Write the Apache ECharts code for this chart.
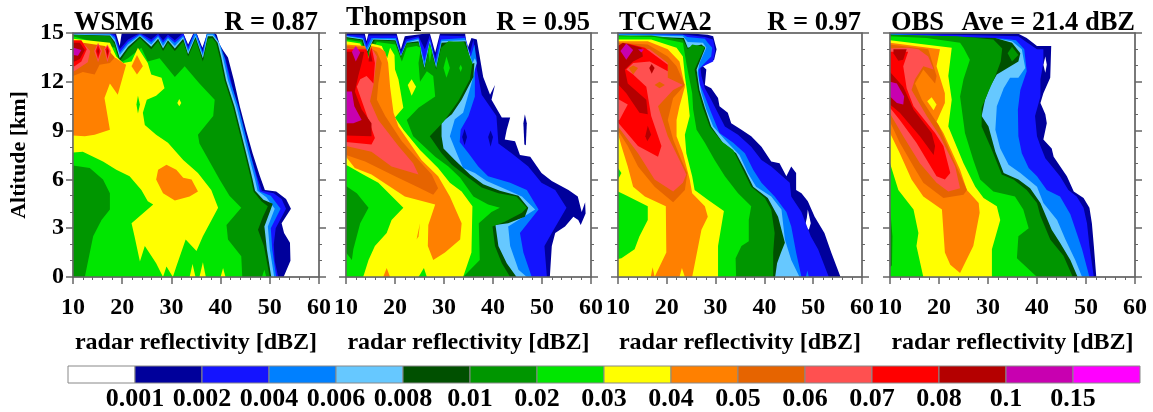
<!DOCTYPE html>
<html><head><meta charset="utf-8">
<script src="https://cdn.jsdelivr.net/npm/echarts@6/dist/echarts.min.js"></script>
<style>html,body{margin:0;padding:0;background:#fff}#c{width:1153px;height:412px}</style>
</head><body><div id="c"></div>
<script>
const bandColors=['#ffffff','#00009b','#1414ff','#0080ff','#66c8ff','#005000','#009600','#00e600','#ffff00','#ff8000','#e66400','#ff5050','#ff0000','#b40000','#c800b0','#ff00ff'];
const colorbarTicks=['0.001','0.002','0.004','0.006','0.008','0.01','0.02','0.03','0.04','0.05','0.06','0.07','0.08','0.1','0.15'];
const panelNames=['WSM6','Thompson','TCWA2','OBS'];
const panelStats=['R = 0.87','R = 0.95','R = 0.97','Ave = 21.4 dBZ'];

// Each entry: [colour band, outline as [dBZ, km] pairs], in painting order
const wsm6Bands=[
[1,[[10,0],[52.8,0],[54.2,1],[54.1,2.1],[52.9,2.7],[52.4,3.3],[54.3,4.2],[53.3,4.8],[51.3,5.25],[49,5.35],[48,6.2],[46.5,7.6],[45.2,9],[43.9,10.5],[42.7,12.1],[41.5,13.5],[40.6,13.9],[39.8,14.3],[39.2,14.9],[38.8,15],[37.3,15],[36.3,14.1],[35.1,15],[34.5,15],[33.4,14.3],[32.4,15],[19.9,15],[19.5,14.2],[18.7,15],[10,15]]],
[2,[[10,0],[51.7,0],[51,1],[50.8,2],[51.2,3],[51.9,3.4],[53.3,4.2],[52.4,4.8],[50.8,5.15],[48.4,5.3],[47.4,6.2],[46,7.6],[44.7,9],[43.3,10.5],[42.1,12.1],[41,13.4],[39.9,14],[39.2,14.6],[38.6,15],[37.3,15],[36.3,13.9],[35.1,15],[34.6,15],[33.4,14.15],[32.4,15],[30.7,14.55],[29.3,14.9],[28.3,14.55],[27.3,14.95],[25.9,14.6],[23.6,15],[21.2,14.6],[19.5,14],[18.5,14.9],[17.5,15],[10,15]]],
[3,[[10,0],[51.3,0],[50.5,1.7],[50.2,3],[52.2,4.2],[50.2,5],[48,5.25],[47.4,6],[46,7.6],[44.8,9.05],[43.6,10.5],[41.9,12.1],[40.8,13.5],[40,14.2],[38.6,15],[37.2,15],[36.4,13.75],[35,15],[34.7,15],[33.4,14],[32.4,14.85],[30.7,14.4],[29.3,14.75],[28.3,14.4],[27.3,14.85],[25.9,14.45],[23.6,14.92],[21.2,14.45],[19.5,13.8],[18.5,14.75],[17.5,14.95],[10,14.95]]],
[4,[[10,0],[50.9,0],[50,1.7],[49.6,3.1],[51,4.2],[49.3,4.9],[47.5,5.3],[47,6],[45.6,7.6],[44.4,9.05],[43.2,10.5],[41.5,12.1],[40.4,13.6],[39.7,14.4],[38.4,14.9],[37.3,14.9],[36.4,13.6],[34.9,14.85],[33.4,13.85],[32.4,14.75],[30.7,14.2],[29.3,14.65],[28.3,14.2],[27.3,14.75],[25.9,14.3],[23.6,14.85],[21.2,14.3],[19.5,13.65],[18.5,14.6],[17.5,14.9],[10,14.93]]],
[5,[[10,0],[50.3,0],[49.4,1.7],[48.9,3.1],[50,4],[50.6,4.5],[48.7,4.75],[47,5.3],[46.5,6],[45.2,7.6],[44,9.05],[42.8,10.5],[41.1,12.1],[40.1,13.55],[39.4,14.4],[38.4,14.8],[37.4,14.8],[36.4,13.45],[34.9,14.75],[33.4,13.7],[32.4,14.65],[30.7,14.05],[29.3,14.55],[28.3,14.05],[27.3,14.65],[25.9,14.15],[23.6,14.8],[21.2,14.15],[19.5,13.45],[18.5,14.45],[17.5,14.85],[10,14.9]]],
[6,[[10,0],[50,0],[48.8,1.9],[47.6,2.9],[48.6,3.7],[49.6,4.35],[48.3,4.65],[46.7,5.25],[46.2,6],[44.9,7.6],[43.7,9.05],[42.5,10.5],[40.8,12.1],[39.8,13.55],[39.1,14.4],[38.3,14.7],[37.4,14.65],[36.4,13.25],[34.9,14.6],[33.4,13.55],[32.4,14.5],[30.7,13.9],[29.3,14.4],[28.3,13.9],[27.3,14.5],[25.9,14],[23.6,14.7],[21.2,14],[19.5,13.25],[18.5,14.3],[17.5,14.8],[10,14.9]]],
[7,[[10,6.85],[10,14.8],[18.5,14.1],[19.5,13.15],[21.2,13.45],[23.9,14.1],[25.2,13.25],[27.6,13.45],[30.7,12.3],[32.7,12.95],[35.7,11.9],[38.8,10.9],[38.5,9.9],[35.4,8.75],[35.7,8.2],[39.8,6],[41.8,5],[44.2,4.25],[41.2,3.2],[41.5,2.3],[44.2,1.27],[44.4,0],[12.4,0],[14.1,2.5],[15.8,3.5],[17.5,4.15],[17.5,5.15],[16.1,6],[13.4,6.7]]],
[7,[[48.4,0],[48.9,0.45],[49.3,0]]],
[8,[[10,14.65],[17.5,14.4],[18.8,13.55],[20.2,13.15],[21.9,13.25],[23.2,14.1],[25.2,13.15],[25.9,12.45],[28,12.25],[28.6,11.6],[26.9,11.15],[25,10.9],[24.2,10.1],[24.6,9.35],[26.9,8.75],[29.3,8.25],[32.4,7.2],[35.4,6.4],[38.1,5.35],[39.5,4.25],[36.4,2.5],[35.1,1.6],[32.9,2.3],[31,0.65],[30.3,0],[29,0.65],[28.3,0],[26.9,0.85],[24.6,1.9],[23.6,0.95],[22.5,2.5],[21.9,3.3],[23.6,3.75],[26.3,4.45],[25.2,4.65],[23.9,5.35],[21.5,6.2],[18.8,6.6],[16.1,7.1],[14.1,7.4],[12,7.7],[10,7.65]]],
[8,[[33.7,0],[34.3,0.8],[34.9,0]]],
[8,[[35.7,0],[36.4,0.9],[37,0]]],
[8,[[40,0],[40.5,0.55],[41,0]]],
[8,[[31.2,10.7],[31.6,10.95],[32,10.7],[31.6,10.5]]],
[7,[[22.9,10.6],[23.2,11.15],[23.6,10.6],[23.2,10.05]]],
[9,[[10,8.7],[12.4,8.65],[14.4,8.75],[17.5,9.05],[16.4,11],[17.5,11.9],[19.1,11.2],[20.8,13.05],[20.2,13.15],[18.8,13.45],[10,14.4]]],
[9,[[23,13.65],[24.2,12.95],[23,12.45],[21.9,12.95]]],
[9,[[29,6.9],[31,6.6],[32.4,6.1],[34.1,6],[35.4,5.25],[33.7,4.95],[30.7,4.7],[28.3,5.15],[26.9,6],[27.3,6.6]]],
[10,[[10,12.35],[12,12.6],[14.4,12.45],[15.4,13.05],[17.5,13.15],[18.5,13.5],[16.5,14.2],[10,14.5]]],
[11,[[10,14.5],[12,14.4],[13.5,13.9],[13,13.2],[11,12.8],[10,12.6]]],
[11,[[14.3,13.9],[15.1,14.4],[15.9,13.9],[15.1,13.2]]],
[11,[[16.3,14],[17,14.3],[17.7,13.9],[17,13.2]]],
[12,[[10,14.55],[11.7,14.55],[12.8,14],[11.7,13.25],[10.3,12.95],[10,12.95]]],
[12,[[14.6,13.9],[15.1,14.3],[15.6,13.9],[15.1,13.4]]],
[12,[[16.6,14],[17,14.2],[17.4,13.9],[17,13.4]]],
[13,[[10,14.4],[11.4,14.4],[12.4,13.95],[11.4,13.4],[10.3,13.25],[10,13.25]]],
[13,[[14.9,13.9],[15.1,14.1],[15.3,13.9],[15.1,13.6]]],
[13,[[16.8,13.9],[17,14.05],[17.2,13.9],[17,13.6]]],
[14,[[10.1,14.1],[11.7,13.95],[11,13.6],[10.1,13.65]]]
];

const thompsonBands=[
[1,[[10,0],[51.6,0],[52,1.9],[52.7,2.7],[54.7,3.1],[56.4,3.7],[57.4,3.5],[57.9,3.2],[58.9,3.9],[58.8,4.6],[58.1,4],[57.3,4.95],[55.4,5.35],[52,5.9],[49.9,6.4],[47.6,7.4],[45.5,7.5],[44.5,8.35],[42.4,8.45],[42.8,9.05],[43.5,9.8],[41.8,9.8],[39.7,10.9],[40.4,11.8],[39.4,11.2],[38,12.3],[36.7,14.6],[35.6,14.7],[34.7,13.95],[34.3,15],[29.2,15],[28.2,13.8],[27.1,15],[22,14.8],[21.2,14],[20.3,15],[14.6,15],[14.2,14.5],[13.8,15],[10,15]]],
[1,[[46.2,9.45],[46.5,10],[46.9,9.45],[46.7,8.1],[46.4,8.15]]],
[2,[[10,0],[51,0],[50.5,1.9],[52,2.7],[55,4.25],[52.7,5.35],[49.9,5.8],[47.2,6.8],[43.8,7.6],[41.1,8.2],[40.7,9.9],[37.7,11.2],[36.7,12.75],[36,14.6],[35.3,13.75],[34.3,14.8],[29.2,14.85],[28.2,13.45],[27.1,14.85],[26.1,14],[24.8,14.8],[22.2,14.6],[21.2,13.8],[20.3,14.85],[14.6,14.85],[14.2,14.3],[13.7,14.85],[10,14.9]]],
[1,[[39,8.6],[39.5,9],[40,8.6],[39.5,8]]],
[1,[[33.7,8.6],[34.2,9.1],[34.7,8.6],[34.2,8.1]]],
[3,[[10,0],[47.9,0],[46.2,1.5],[45.5,2.7],[49.3,4.15],[46.9,5.35],[43.5,5.8],[39,6.2],[37,6.8],[35,7.6],[33.2,8.3],[33.4,9.05],[35,9.9],[36.3,11.1],[36.3,12.95],[36.7,13.25],[36.2,14.3],[35.3,13.35],[34.3,14.7],[29.4,14.6],[28.3,13.15],[27.1,14.6],[26,13.25],[24.8,14.7],[22.4,14.5],[21.2,13.65],[20.2,14.7],[15.2,14.7],[14.2,14.1],[13.5,14.7],[10,14.85]]],
[4,[[10,0],[46.9,0],[45.2,0.45],[43.5,1.9],[43.1,3.1],[48.6,4.15],[45.9,4.95],[42.1,5.45],[38.7,5.9],[36.3,6.4],[33.9,6.7],[32.6,7.6],[31.2,8.65],[32.2,9.7],[33.9,10.1],[35.6,11.9],[36.3,12.75],[36.7,13.15],[36.3,13.45],[35.8,13.15],[34.4,14.55],[29.5,14.5],[28.4,12.95],[27.1,14.5],[26,12.95],[24.8,14.6],[22.4,14.4],[21.2,13.6],[20.1,14.6],[15.6,14.65],[14.2,13.9],[13.4,14.65],[10,14.8]]],
[5,[[10,0],[44.8,0],[42.8,0.85],[41.1,1.9],[40.5,3.2],[43.1,3.3],[46.5,3.7],[47.2,4.25],[45.2,5],[41.4,5.3],[38,5.7],[35.3,6.3],[32.2,7.2],[29.9,7.9],[29.5,8.65],[29.5,9.5],[31.6,10],[33.6,10.9],[36,12.3],[36.2,13.15],[35.6,13.1],[34.4,14.5],[29.5,14.4],[28.4,12.85],[27.1,14.4],[26,12.85],[24.8,14.5],[22.4,14.4],[21.2,13.55],[20.1,14.55],[15.6,14.6],[14.2,13.8],[13.4,14.6],[10,14.75]]],
[6,[[10,0],[43.5,0],[41.8,0.85],[40.4,1.9],[39.9,3.1],[42.4,3.4],[45.9,3.95],[46.9,4.25],[44.8,4.95],[41.1,5.15],[37.7,5.5],[35,6.1],[31.6,6.9],[29.5,7.6],[27.1,8.65],[29.9,9.55],[32.9,10.8],[35.3,12.15],[35.8,13.15],[34.1,14.45],[30.9,14.5],[29.4,14.1],[28.4,12.75],[27.1,14.3],[26,12.75],[24.8,14.4],[22.4,14.35],[21.2,13.5],[20,14.5],[15.9,14.55],[14.2,13.7],[13.2,14.55],[10,14.7]]],
[7,[[10,0],[33.9,0],[37.3,1.05],[37.1,3.3],[39.7,4],[41.4,4.25],[39,4.45],[36,4.95],[33.3,6.1],[30.9,6.8],[28.2,7.4],[23.7,8.65],[22.4,9.65],[24.8,10.4],[28.2,11.1],[27.8,12.35],[26.5,12.65],[25.1,12],[24.8,13.15],[25.3,14.1],[24.4,14.2],[22.4,14.1],[21.4,13.25],[20.1,14.3],[16.3,14.45],[14.4,13.35],[13.1,14.45],[10,14.6]]],
[7,[[29.9,12.85],[30.5,13.55],[31.2,12.85],[30.5,12.25]]],
[7,[[33.1,12.85],[33.4,13.05],[33.7,12.85],[33.4,12.6]]],
[7,[[26.8,13.9],[27.1,14.3],[27.5,13.9],[27.1,13.2]]],
[6,[[10,5.6],[12.2,5.15],[14.6,4.25],[12.9,3.3],[11.5,1.7],[11.2,1.05],[10,1.5]]],
[8,[[10,6.9],[13.5,6.3],[16.6,5.8],[21.7,4.25],[19.3,3.5],[18.3,2.7],[15.9,1.9],[14.6,1.05],[13.5,0],[33.9,0],[35.6,1.5],[35.8,4.35],[33.6,5.25],[31.2,5.8],[28.8,6.7],[25.1,7.8],[21.7,9.05],[20,9.8],[21.7,10.4],[20.7,12.15],[20,12.75],[19.9,13.65],[19,14.1],[18.4,13.45],[17.3,14.2],[15.2,14.35],[14.4,13.25],[12.9,14.35],[10,14.5]]],
[8,[[22.6,11.8],[23.4,12.15],[24.3,11.7],[23.4,11.15]]],
[7,[[24.8,0],[25.9,0.55],[26.5,0]]],
[9,[[10,7.4],[11.8,6.7],[15.2,6.3],[19,5.55],[22,4.95],[28.2,4.45],[26.8,3.2],[26.7,1.9],[27.8,1.05],[30.2,1.5],[33.3,2.3],[33.6,3.3],[31.2,4.95],[28.8,6.2],[25.4,7.2],[20.7,9.25],[19.7,10.1],[19,11.7],[18.6,13.15],[18,13.85],[16.9,14.1],[15.1,14.2],[14.5,13.2],[13.9,14.2],[10,14.3]]],
[9,[[24.4,2.3],[25.1,3.3],[24.8,2.5]]],
[9,[[17.6,0],[18.3,0.55],[19,0]]],
[10,[[10,7.5],[13.9,7.1],[20,6.2],[24.8,5.5],[27.8,5.05],[28.8,5.45],[27.5,6.3],[24.8,7.2],[21.4,8.35],[18,9.9],[16.3,10.9],[16.6,11.9],[17.3,13.15],[16.3,13.85],[14.9,14.1],[14.6,13.25],[14,14.1],[10,14.2]]],
[11,[[10,8.05],[15.2,7.7],[19.3,6.8],[24.8,6.3],[23.7,7],[20.7,8.05],[16.6,9.65],[14.9,10.8],[15.6,11.8],[16.3,13.55],[15.4,14],[14.6,13.3],[14.1,14],[10,14.05]]],
[12,[[10,8.3],[15.2,8.15],[15.9,8.55],[14.6,9.65],[12.2,11.7],[12.9,12.15],[14.2,12.35],[15.6,11.9],[15.9,13.15],[15.2,14.15],[14.7,13.4],[14.2,14],[10,14]]],
[13,[[10,8.7],[15.2,8.65],[15.2,9.45],[13.2,10.3],[11.8,11.4],[12.5,12.35],[13.2,13.15],[13.7,13.85],[10,13.85]]],
[13,[[14.6,13.25],[14.9,14],[15.4,13.25]]],
[14,[[11.2,13.85],[12,14.2],[12.9,13.8],[12,13.25]]],
[14,[[10,11.4],[11.2,11.4],[11.7,10.5],[13.2,9.65],[11.5,9.45],[10,9.45]]]
];

const tcwa2Bands=[
[1,[[10,0],[55.6,0],[53.7,1.5],[52.3,2.7],[50.3,3.7],[48.9,4.65],[47.6,5.15],[46.5,5.35],[46.5,6.4],[45.5,6.8],[44.5,6.2],[43.1,7],[41.4,7.1],[39.4,8],[37.3,8.65],[35.3,9.05],[33.2,9.45],[32.5,10.1],[30.8,10.5],[30.5,11],[29.1,11.6],[27.8,11.8],[28.1,12.75],[27.4,12.95],[28.4,13.15],[29.7,13.35],[30.2,14],[29.5,14.8],[28.4,14.9],[23.7,15],[10,15]]],
[0,[[48.9,4.15],[49.5,3.3],[49.1,2.9],[48.3,3.1],[48.7,3.65]]],
[2,[[10,0],[53.2,0],[51,1.7],[49.5,2.5],[47.6,4],[45.5,4.95],[45.2,5.8],[41.4,6.8],[39.4,7.2],[37.3,8],[34.6,8.75],[31.9,9.25],[30.8,9.9],[29.1,10.9],[27.8,11.6],[27.1,12.35],[26.9,12.85],[28.1,13.05],[29.5,13.25],[29.9,13.9],[29.5,14.6],[27.8,14.75],[24,14.9],[10,15]]],
[3,[[10,0],[47.6,0],[46.5,1.5],[45.5,3.1],[44.5,4],[42.1,4.95],[39.4,5.8],[37.7,6.6],[36,7.6],[33.6,8.25],[30.8,8.85],[29.1,10.1],[27.8,11.1],[26.7,11.9],[26.5,12.75],[27.8,13.15],[29.1,13.55],[29.3,14.1],[28.4,14.4],[27.8,14.65],[24.2,14.75],[23.3,14.9],[10,14.95]]],
[3,[[48.5,0],[48.8,0.4],[49.1,0]]],
[4,[[10,0],[47.2,0],[45.5,1.05],[44.2,2.3],[43.5,4.15],[41.4,4.95],[38.3,5.55],[36.6,6.4],[34.9,7.5],[32.2,8.35],[29.5,9.25],[28.1,10.3],[27.1,11.3],[26.3,12.55],[26.7,13.15],[28.1,14.1],[27.4,14.4],[24.3,14.45],[23.3,14.8],[10,14.9]]],
[5,[[10,0],[42.2,0],[42.6,0.85],[43.4,1.5],[44.2,2.1],[42.8,3.7],[40.7,4.85],[37.7,5.55],[36,6.6],[34.2,7.6],[31.5,8.25],[29.1,9.25],[27.8,10.4],[26.7,11.5],[26.1,12.75],[27.9,14.1],[27.1,14.3],[24.3,14.1],[23.5,14.7],[10,14.85]]],
[6,[[10,0],[41.8,0],[41.8,1.5],[42.1,2.7],[41.4,4.15],[40.1,4.85],[37.3,5.55],[35.6,6.6],[33.6,7.8],[31.2,8.35],[28.8,9.25],[27.4,10.4],[26.4,11.5],[25.7,12.75],[27.8,14.15],[25.2,14.3],[24.3,14],[23.3,14.6],[16.8,14.85],[10,14.85]]],
[7,[[10,0],[34.2,0],[34.1,1.15],[35.3,1.9],[36.8,2.2],[36.8,3.5],[37.3,4.35],[34.6,5.15],[31.9,6.2],[29.8,7.2],[27.8,8.25],[26.1,9.05],[25.4,10.3],[25.2,11.3],[24,13.15],[23.3,14.4],[17.5,14.75],[10,14.8]]],
[8,[[10,0],[30.5,0],[30.5,1.9],[31.7,4.05],[28.4,4.75],[25.7,5.35],[25.2,6.2],[24,7.6],[23.7,8.75],[24.7,9.9],[24.3,11.1],[23.7,12.35],[23.3,13.55],[22,14.1],[16.8,14.6],[10,14.6]]],
[7,[[10,5.25],[11.4,5.05],[16.1,4.35],[16.1,3.5],[14.4,2.5],[13.4,1.7],[10.7,1.15],[10,1.1]]],
[7,[[10,6.7],[10.7,6.4],[10,6]]],
[9,[[10,8.8],[10.7,8.05],[12,6.8],[13.1,5.55],[15.5,4.95],[19.8,4.35],[19.9,1.5],[17.5,0],[25.2,0],[27.1,2.9],[28.4,3.7],[27.8,4.35],[25.2,5.15],[24.7,6],[23.3,7.6],[22,8.65],[22,9.65],[22.6,10.5],[23.7,11.7],[22.6,13.25],[20.2,14],[16.1,14.5],[10,14.5]]],
[8,[[22.6,0],[23.1,0.55],[23.7,0]]],
[9,[[16.7,0],[17.1,0.6],[17.5,0]]],
[10,[[10,9],[12,8.05],[14.1,6.8],[17.5,5.55],[21.3,4.6],[23.7,5.35],[24.2,6.4],[23,7.2],[21.3,8.45],[20.2,9.65],[21.3,11],[23.7,11.8],[22,12.95],[20.2,13.55],[16.1,14.3],[10,14.4]]],
[11,[[10,9.25],[12,8.45],[14.1,7.6],[17.5,6],[21.3,5.25],[23.3,5.8],[24,6.3],[22.6,7.2],[20.2,8.65],[18.2,10.5],[21.3,11.5],[23.3,11.8],[20.2,12.25],[20.2,13.15],[16.5,14],[10,14.25]]],
[10,[[17.5,11.8],[18.5,12],[19.6,11.8],[18.5,11.6]]],
[10,[[12.2,12.85],[13.1,13],[14.1,12.85],[13.1,12.45]]],
[12,[[10,9.5],[14.1,8.05],[18.2,7.4],[18.9,8.05],[16.8,9.9],[15.8,11.7],[13.1,12.45],[11.7,12.75],[13.1,13.15],[16.5,13.25],[20.2,12.65],[20.2,13.05],[15.5,14.1],[12,14.35],[10,14.2]]],
[11,[[10,10.95],[12,10.6],[10.3,9.65],[10,9.65]]],
[13,[[10,11.85],[11.7,11.3],[14.4,10.1],[16.1,10],[15.8,10.9],[12,11.9],[11.4,12.75],[13.1,13.25],[15.1,13.55],[14.8,14.1],[11,14.4],[10,14.2]]],
[13,[[16.4,12.85],[16.9,13.1],[17.5,12.85],[16.9,12.5]]],
[13,[[15.6,8.65],[16.1,9.3],[16.8,8.75],[16,8.35]]],
[14,[[10.5,13.9],[11.7,14.35],[13.1,13.95],[11.7,13.35]]],
[14,[[14.1,14],[15.3,14],[14.8,13.8]]]
];

const obsBands=[
[1,[[10,0],[52.1,0],[51.6,1.9],[51.2,3.3],[50.7,4.25],[49.5,4.85],[47.5,5.25],[46.1,6.2],[43.4,7.4],[43,7.9],[41.3,8.45],[42,9.45],[41.7,10],[40.7,10.7],[41.3,11.3],[42.7,12.25],[42.9,14.2],[40,14.2],[37.9,14.7],[36.2,14.95],[10,15]]],
[0,[[41.3,13.05],[41.7,13.55],[42,13.05],[41.7,12.55]]],
[2,[[10,0],[51.6,0],[50.7,1.9],[50.2,3.3],[49.5,4.25],[48.1,4.95],[46.4,5.35],[44.7,6.2],[41.7,7.3],[40.7,8.05],[40,8.65],[39.6,9.9],[40.7,11.1],[40.7,12.15],[41.3,13.15],[41.3,14],[40,14],[37.6,14.5],[36.2,14.8],[10,14.98]]],
[3,[[10,0],[50.7,0],[49.2,1.7],[48.1,2.7],[46.8,3.85],[44.7,4.95],[42,5.35],[40,6.2],[38.3,6.7],[36.9,7.6],[36.2,8.65],[36.1,10.3],[36.6,11.5],[37.9,12.65],[37.4,14],[35.7,14.55],[33.2,14.65],[10,14.95]]],
[4,[[10,0],[49.2,0],[47.8,1.05],[45.8,2.3],[44.1,3.5],[41.3,4.55],[40,5.55],[36.6,6.4],[34.2,6.9],[32.5,7.9],[31.5,9.05],[31.8,10.5],[33.2,11.6],[34.5,12.25],[36.2,12.25],[37.6,12.85],[36.9,14],[34.9,14.5],[31.8,14.65],[10,14.9]]],
[5,[[10,0],[48.3,0],[46.8,1.05],[44.7,2.1],[43,2.9],[40.7,4.55],[38.6,5.45],[36.2,6],[33.2,6.4],[31.5,7.7],[30.1,9.25],[28.7,9.9],[29.4,10.9],[30.4,11.7],[31.8,12.45],[36.2,13.25],[36.6,13.75],[34.9,14.4],[31.5,14.7],[10,14.9]]],
[6,[[10,0],[47.3,0],[45.4,1.3],[42.7,2.3],[40.7,3.75],[40,4.55],[37.9,5.35],[35.2,6],[32.8,6.3],[30.8,7.8],[28.7,9.25],[28.7,10.4],[30.1,11.4],[31.5,12.35],[32.6,13.25],[32.9,14.05],[31.1,14.6],[23.6,14.8],[10,14.9]]],
[6,[[34,13.75],[34.9,14.15],[36.2,13.65],[34.9,13.25]]],
[7,[[10,0],[40,0],[35.9,1.15],[36.2,2.5],[38.3,3],[37.2,4.15],[35.5,4.95],[31.1,5.25],[28.4,6],[27,7.2],[25.3,8.85],[24.3,11.1],[25,12.15],[26.3,13.35],[25,14.1],[24.3,14.4],[17.5,14.7],[10,14.8]]],
[6,[[27.7,13.75],[28.3,14.1],[28.8,13.75],[28.3,13.4]]],
[6,[[10,4.3],[10.5,2.5],[10.4,0.7],[10,0.6]]],
[8,[[10,7],[11.7,5.35],[14.8,4.15],[15.8,2.7],[15.4,1.9],[16.8,0],[30.8,0],[30.8,1.7],[32.5,3.5],[31.8,4.35],[29.1,4.85],[27.4,5.55],[25,7],[21.9,9.25],[22.6,10.9],[21.9,12.35],[22.6,14.1],[10,14.55]]],
[9,[[10,8.85],[12,7.6],[14.4,6],[16.8,4.95],[20.6,4.15],[21.2,1.5],[22.3,0.75],[24.3,0.25],[27,1.9],[28.3,3.95],[28.1,4.55],[25.7,5.35],[24.3,6.6],[20.9,8.85],[19.5,9.55],[21.2,10.7],[21.2,11.3],[19.5,12.95],[20.2,14],[10,14.4]]],
[10,[[10,9.55],[12,8.25],[14.8,6.8],[16.8,5.8],[20.9,4.85],[25,5.05],[25.7,5.35],[23.3,7],[19.9,9.35],[19.2,9.65],[16.5,10.9],[15.1,11.9],[16.8,12.75],[19.2,11.9],[19.5,12.35],[17.8,14],[10,14.3]]],
[8,[[17.6,10.8],[18.5,11.05],[19.5,10.6],[18.9,10.25]]],
[11,[[10,10.05],[12.7,8.65],[16.1,7],[19.5,5.8],[21.9,5.25],[24.3,5.45],[23.3,6.8],[20.2,8.65],[17.5,9.9],[14.4,11.5],[15.1,12.15],[16.8,12.95],[18.9,12.75],[17.8,13.55],[15.8,14],[13.7,14.1],[10,14.05]]],
[12,[[10,10.4],[12,9.65],[15.4,8.25],[19.5,6.2],[21.2,6],[22.3,6.4],[20.9,8.05],[19.2,8.85],[14.8,10.5],[13.4,11.6],[12.7,12.95],[13.7,13.85],[10,13.85]]],
[13,[[10,10.6],[12,10.1],[16.1,8.65],[18.9,7.5],[19.2,8.05],[18.5,8.85],[14.8,10.3],[12.7,11.7],[10,12.6]]],
[13,[[10.7,14],[13.4,14],[12.7,13.35],[11.7,13.3],[10.7,13.75]]],
[14,[[10,12],[11.4,11.9],[12.9,11.1],[12.7,10.6],[11.4,10.7],[10,11.1]]]
];

const panelBands=[wsm6Bands,thompsonBands,tcwa2Bands,obsBands];
const panelLeft=[73,346,618,890], panelWidth=[246,245,244,245];
const serif='"Liberation Serif","Times New Roman",serif';
const frame='#666';

const grids=[],xAxes=[],yAxes=[],series=[],titles=[];
panelBands.forEach((bands,i)=>{
  grids.push({left:panelLeft[i],top:33,width:panelWidth[i],height:244,show:true,backgroundColor:'#fff',borderColor:frame,borderWidth:1});
  xAxes.push({gridIndex:i,type:'value',min:10,max:60,interval:10,position:'bottom',z:5,
    splitLine:{show:false},axisLine:{show:true,onZero:false,lineStyle:{color:frame,width:1.5}},
    axisTick:{show:true,length:7,lineStyle:{color:frame,width:1.5}},
    minorTick:{show:true,splitNumber:5,length:3,lineStyle:{color:frame}},
    axisLabel:{color:'#000',fontFamily:serif,fontWeight:'bold',fontSize:24,margin:19,hideOverlap:false},
    name:'radar reflectivity [dBZ]',nameLocation:'middle',nameGap:54,nameMoveOverlap:false,
    nameTextStyle:{color:'#000',fontFamily:serif,fontWeight:'bold',fontSize:24}});
  xAxes.push({gridIndex:i,type:'value',min:10,max:60,position:'top',z:5,splitLine:{show:false},
    axisLine:{show:true,onZero:false,lineStyle:{color:frame,width:1.5}},axisTick:{show:false},axisLabel:{show:false}});
  yAxes.push({gridIndex:i,type:'value',min:0,max:15,interval:3,position:'left',z:5,
    splitLine:{show:false},axisLine:{show:true,onZero:false,lineStyle:{color:frame,width:1.5}},
    axisTick:{show:true,length:7,lineStyle:{color:frame,width:1.5}},
    minorTick:{show:true,splitNumber:3,length:3,lineStyle:{color:frame}},
    axisLabel:{show:i===0,color:'#000',fontFamily:serif,fontWeight:'bold',fontSize:24,margin:9},
    name:i===0?'Altitude [km]':'',nameLocation:'middle',nameGap:43,nameRotate:90,nameMoveOverlap:false,
    nameTextStyle:{color:'#000',fontFamily:serif,fontWeight:'bold',fontSize:22}});
  yAxes.push({gridIndex:i,type:'value',min:0,max:15,interval:3,position:'right',z:5,
    splitLine:{show:false},axisLine:{show:true,onZero:false,lineStyle:{color:frame,width:1.5}},
    axisTick:{show:true,length:7,lineStyle:{color:frame,width:1.5}},
    minorTick:{show:true,splitNumber:3,length:3,lineStyle:{color:frame}},
    axisLabel:{show:false}});
  series.push({type:'custom',xAxisIndex:2*i,yAxisIndex:2*i,clip:true,silent:true,z:2,
    data:bands.map((b,k)=>[b[1][0][0],b[1][0][1],k]),
    renderItem:(params,api)=>{
      const b=bands[params.dataIndex];
      return {type:'polygon',shape:{points:b[1].map(p=>api.coord(p))},style:{fill:bandColors[b[0]],stroke:null}};
    }});
  titles.push({text:panelNames[i],left:panelLeft[i]+(i===1?0:1),top:i===1?5:10,padding:0,
    textStyle:{fontFamily:serif,fontWeight:'bold',fontSize:26.5,color:'#000'}});
  titles.push({text:panelStats[i],right:1153-panelLeft[i]-panelWidth[i]-(i===3?0:-1),top:10,padding:0,
    textStyle:{fontFamily:serif,fontWeight:'bold',fontSize:26.5,color:'#000'}});
});

// colour bar
grids.push({left:68,top:366,width:1072,height:17,show:false});
xAxes.push({gridIndex:4,type:'value',min:0,max:16,interval:1,position:'bottom',splitLine:{show:false},
  axisLine:{show:false},axisTick:{show:false},
  axisLabel:{color:'#000',fontFamily:serif,fontWeight:'bold',fontSize:26,margin:3,hideOverlap:false,
    formatter:v=>colorbarTicks[v-1]||''}});
yAxes.push({gridIndex:4,type:'value',min:0,max:1,show:false});
series.push({type:'custom',xAxisIndex:8,yAxisIndex:8,clip:false,silent:true,
  data:bandColors.map((c,k)=>[k,0]),
  renderItem:(params,api)=>{
    const k=params.dataIndex,a=api.coord([k,1]),b=api.coord([k+1,0]);
    return {type:'rect',shape:{x:a[0],y:a[1],width:b[0]-a[0],height:b[1]-a[1]},
      style:{fill:bandColors[k],stroke:'#888',lineWidth:1}};
  }});

const chart=echarts.init(document.getElementById('c'),null,{renderer:'canvas'});
chart.setOption({animation:false,backgroundColor:'#fff',title:titles,grid:grids,xAxis:xAxes,yAxis:yAxes,series:series});
</script></body></html>
